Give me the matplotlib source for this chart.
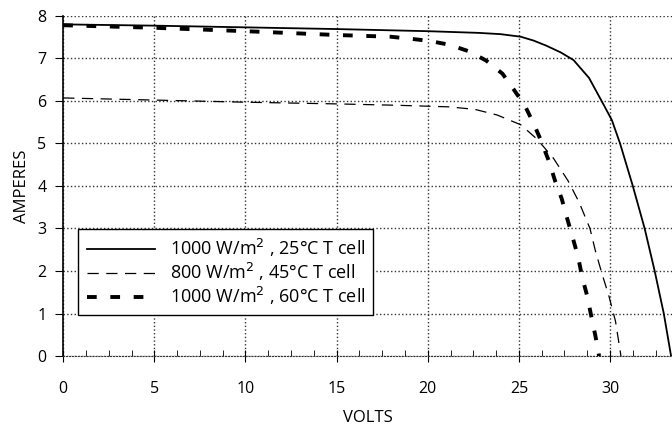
import numpy as np
import matplotlib.pyplot as plt
from matplotlib.ticker import MultipleLocator

plt.rcParams['font.family'] = ['Open Sans', 'DejaVu Sans']

# 1000 W/m2, 25C
v_25 = [0, 5, 10, 15, 20, 22.8, 24.0, 25.1, 25.8, 26.5, 27.3, 28.0, 28.85, 29.6, 30.1, 30.55, 31.25, 31.9, 32.45, 32.95, 33.35]
i_25 = [7.8, 7.77, 7.73, 7.69, 7.64, 7.6, 7.57, 7.51, 7.42, 7.3, 7.14, 6.96, 6.54, 5.95, 5.55, 5.0, 4.0, 3.0, 2.0, 1.0, 0.0]

# 800 W/m2, 45C
v_45 = [0, 5, 10, 15, 18.1, 19.7, 21.2, 22.6, 23.8, 25.1, 26.0, 26.9, 27.7, 28.3, 28.9, 29.2, 29.57, 29.94, 30.3, 30.6]
i_45 = [6.07, 6.02, 5.97, 5.93, 5.9, 5.88, 5.86, 5.8, 5.67, 5.44, 5.1, 4.65, 4.12, 3.62, 3.0, 2.47, 1.92, 1.41, 0.82, 0.0]

# 1000 W/m2, 60C
v_60 = [0, 5, 10, 15, 17.95, 19.1, 20.1, 21.2, 22.3, 23.2, 24.1, 24.7, 25.34, 25.84, 26.2, 26.66, 27.0, 27.35, 27.66, 27.97, 28.26, 28.48, 28.75, 28.97, 29.2, 29.4]
i_60 = [7.78, 7.72, 7.64, 7.55, 7.51, 7.46, 7.41, 7.32, 7.16, 6.95, 6.64, 6.28, 5.88, 5.44, 5.08, 4.57, 4.1, 3.7, 3.22, 2.76, 2.31, 1.84, 1.41, 0.94, 0.47, 0.0]

labels = ['1000 W/m$^2$ , 25°C T cell', '800 W/m$^2$ , 45°C T cell', '1000 W/m$^2$ , 60°C T cell']

fig = plt.figure(figsize=(6.72, 4.29), dpi=100)
ax = fig.add_axes([0.094, 0.170, 0.906, 0.793])

ax.plot(v_25, i_25, color='black', lw=1.3, label=labels[0])
ax.plot(v_45, i_45, color='black', lw=0.9, dashes=(9, 6), label=labels[1])
ax.plot(v_60, i_60, color='black', lw=2.8, dashes=(2.5, 3.5), label=labels[2])

ax.set_xlim(0, 33.4)
ax.set_ylim(0, 8)
ax.xaxis.set_major_locator(MultipleLocator(5))
ax.xaxis.set_minor_locator(MultipleLocator(1.25))
ax.yaxis.set_major_locator(MultipleLocator(1))
ax.grid(True, which='major', color='#333333', linestyle=':', lw=1.0)
ax.set_axisbelow(True)

ax.spines['top'].set_visible(False)
ax.spines['right'].set_visible(False)
ax.spines['bottom'].set_linestyle(':')
ax.spines['bottom'].set_color('#333333')
ax.spines['left'].set_linewidth(1.2)

ax.tick_params(axis='x', which='major', direction='inout', length=8, labelsize=11.5, pad=14)
ax.tick_params(axis='x', which='minor', direction='in', length=4)
ax.tick_params(axis='y', which='major', direction='out', length=6, labelsize=11.5, pad=6)

ax.set_xlabel('VOLTS', fontsize=12, labelpad=9)
ax.set_ylabel('AMPERES', fontsize=12, labelpad=5)

leg = ax.legend(loc='upper left', bbox_to_anchor=(0.025, 0.374), fontsize=13,
                handlelength=3.8, frameon=True, fancybox=False, framealpha=1,
                edgecolor='black', borderpad=0.45, labelspacing=0.1, handletextpad=0.8,
                borderaxespad=0)
leg.get_frame().set_linewidth(1.0)

fig.savefig('out.png', dpi=100)
